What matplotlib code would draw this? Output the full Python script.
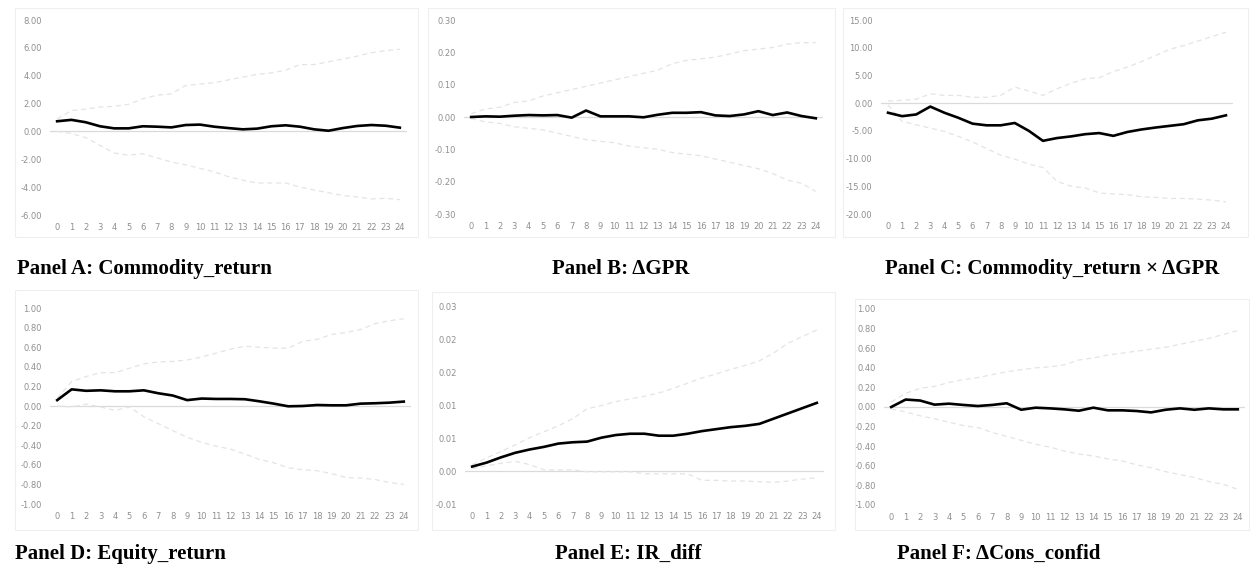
import matplotlib.pyplot as plt
from matplotlib.patches import Rectangle

plt.rcParams['axes.unicode_minus'] = False

W, H = 1250, 570
horizon = list(range(25))

# Panel A: Commodity_return
a_irf = [0.73, 0.83, 0.66, 0.37, 0.22, 0.22, 0.37, 0.34, 0.29, 0.46, 0.49, 0.34, 0.24,
         0.15, 0.20, 0.37, 0.44, 0.34, 0.15, 0.05, 0.24, 0.39, 0.46, 0.41, 0.27]
a_up = [0.9, 1.5, 1.6, 1.75, 1.8, 1.95, 2.35, 2.6, 2.7, 3.3, 3.4, 3.5, 3.7,
        3.9, 4.1, 4.2, 4.4, 4.8, 4.8, 5.0, 5.2, 5.4, 5.65, 5.8, 5.9]
a_lo = [0.0, -0.15, -0.45, -1.0, -1.55, -1.7, -1.6, -1.9, -2.2, -2.4, -2.65, -2.9, -3.25,
        -3.5, -3.7, -3.7, -3.7, -4.0, -4.2, -4.4, -4.6, -4.7, -4.85, -4.8, -4.9]
a_ticks = [-6, -4, -2, 0, 2, 4, 6, 8]

# Panel B: dGPR
b_irf = [0.0, 0.002, 0.001, 0.004, 0.006, 0.005, 0.006, -0.002, 0.020, 0.002, 0.002, 0.002, -0.001,
         0.007, 0.013, 0.013, 0.015, 0.005, 0.003, 0.008, 0.018, 0.006, 0.014, 0.003, -0.004]
b_up = [0.01, 0.025, 0.03, 0.045, 0.05, 0.065, 0.075, 0.085, 0.095, 0.105, 0.115, 0.125, 0.135,
        0.145, 0.165, 0.175, 0.18, 0.185, 0.195, 0.205, 0.21, 0.215, 0.225, 0.23, 0.23]
b_lo = [-0.005, -0.015, -0.02, -0.03, -0.035, -0.04, -0.05, -0.06, -0.07, -0.075, -0.08, -0.09, -0.095,
        -0.1, -0.11, -0.115, -0.12, -0.13, -0.14, -0.15, -0.16, -0.175, -0.195, -0.205, -0.23]
b_ticks = [-0.3, -0.2, -0.1, 0.0, 0.1, 0.2, 0.3]

# Panel C: Commodity_return x dGPR
c_irf = [-1.73, -2.35, -2.04, -0.62, -1.73, -2.65, -3.7, -4.0, -4.0, -3.58, -5.0, -6.8, -6.3,
         -6.0, -5.6, -5.4, -5.9, -5.2, -4.75, -4.4, -4.1, -3.8, -3.1, -2.8, -2.2]
c_up = [0.4, 0.5, 0.7, 1.7, 1.4, 1.4, 1.05, 1.05, 1.4, 2.9, 2.2, 1.4, 2.6,
        3.6, 4.4, 4.6, 5.7, 6.5, 7.5, 8.6, 9.7, 10.4, 11.2, 12.0, 12.8]
c_lo = [-0.3, -3.3, -3.9, -4.5, -5.1, -6.0, -7.0, -8.2, -9.4, -10.1, -11.0, -11.6, -14.1,
        -15.0, -15.3, -16.2, -16.4, -16.5, -16.9, -17.0, -17.2, -17.2, -17.3, -17.5, -17.8]
c_ticks = [-20, -15, -10, -5, 0, 5, 10, 15]

# Panel D: Equity_return
d_irf = [0.06, 0.17, 0.155, 0.16, 0.15, 0.15, 0.16, 0.13, 0.107, 0.06, 0.076, 0.072, 0.072,
         0.069, 0.048, 0.024, -0.003, 0.0, 0.01, 0.007, 0.007, 0.024, 0.028, 0.034, 0.045]
d_up = [0.08, 0.25, 0.3, 0.34, 0.34, 0.385, 0.43, 0.45, 0.455, 0.47, 0.5, 0.54, 0.58,
        0.61, 0.6, 0.59, 0.59, 0.66, 0.68, 0.73, 0.75, 0.78, 0.84, 0.87, 0.89]
d_lo = [0.0, -0.01, 0.02, -0.01, -0.045, -0.01, -0.11, -0.18, -0.25, -0.32, -0.37, -0.41, -0.44,
        -0.49, -0.545, -0.58, -0.63, -0.65, -0.66, -0.69, -0.73, -0.735, -0.75, -0.78, -0.80]
d_ticks = [-1.0, -0.8, -0.6, -0.4, -0.2, 0.0, 0.2, 0.4, 0.6, 0.8, 1.0]

# Panel E: IR_diff
e_irf = [0.0007, 0.0013, 0.0021, 0.0028, 0.0033, 0.0037, 0.0042, 0.0044, 0.0045, 0.0051, 0.0055, 0.0057, 0.0057,
         0.0054, 0.0054, 0.0057, 0.0061, 0.0064, 0.0067, 0.0069, 0.0072, 0.0080, 0.0088, 0.0096, 0.0104]
e_up = [0.001, 0.002, 0.003, 0.004, 0.0051, 0.006, 0.0069, 0.008, 0.0095, 0.0100, 0.0106, 0.0110, 0.0114,
        0.0119, 0.0126, 0.0134, 0.0142, 0.0148, 0.0155, 0.0161, 0.0168, 0.0180, 0.0195, 0.0205, 0.0215]
e_lo = [0.0004, 0.0008, 0.0012, 0.0015, 0.0010, 0.0002, 0.0002, 0.0002, -0.0001, -0.0001, -0.0001, -0.0001, -0.0004,
        -0.0004, -0.0004, -0.0004, -0.0014, -0.0014, -0.0015, -0.0015, -0.0016, -0.0017, -0.0015, -0.0012, -0.0010]
e_ticks = [-0.005, 0.0, 0.005, 0.01, 0.015, 0.02, 0.025]
e_labels = ['-0.01', '0.00', '0.01', '0.01', '0.02', '0.02', '0.03']

# Panel F: dCons_confid
f_irf = [0.0, 0.076, 0.066, 0.024, 0.034, 0.021, 0.01, 0.021, 0.038, -0.028, -0.007, -0.014, -0.024,
         -0.038, -0.007, -0.034, -0.034, -0.041, -0.055, -0.028, -0.014, -0.028, -0.014, -0.024, -0.024]
f_up = [0.05, 0.14, 0.19, 0.21, 0.25, 0.28, 0.30, 0.33, 0.36, 0.38, 0.40, 0.41, 0.43,
        0.48, 0.50, 0.53, 0.55, 0.57, 0.59, 0.61, 0.64, 0.67, 0.70, 0.74, 0.78]
f_lo = [-0.02, -0.05, -0.09, -0.12, -0.155, -0.19, -0.21, -0.26, -0.30, -0.34, -0.38, -0.41, -0.45,
        -0.48, -0.50, -0.53, -0.55, -0.59, -0.62, -0.66, -0.69, -0.72, -0.76, -0.79, -0.84]
f_ticks = [-1.0, -0.8, -0.6, -0.4, -0.2, 0.0, 0.2, 0.4, 0.6, 0.8, 1.0]

titles = ['Panel A: Commodity_return', 'Panel B: \u0394GPR', 'Panel C: Commodity_return \u00d7 \u0394GPR',
          'Panel D: Equity_return', 'Panel E: IR_diff', 'Panel F: \u0394Cons_confid']

panels = [
    (a_irf, a_up, a_lo, a_ticks, ['%.2f' % t for t in a_ticks]),
    (b_irf, b_up, b_lo, b_ticks, ['%.2f' % t for t in b_ticks]),
    (c_irf, c_up, c_lo, c_ticks, ['%.2f' % t for t in c_ticks]),
    (d_irf, d_up, d_lo, d_ticks, ['%.2f' % t for t in d_ticks]),
    (e_irf, e_up, e_lo, e_ticks, e_labels),
    (f_irf, f_up, f_lo, f_ticks, ['%.2f' % t for t in f_ticks]),
]

# plot boxes in pixels: left, right, top, bottom
boxes = [(50, 407, 20, 215), (464, 823, 20, 214), (881, 1233, 20, 214),
         (50, 411, 308, 504), (465, 824, 307, 504), (884, 1245, 309, 505)]
# chart-area frames in pixels: left, top, right, bottom
frames = [(15, 8, 418, 237), (428, 8, 835, 237), (843, 8, 1248, 237),
          (15, 290, 418, 530), (432, 292, 835, 530), (855, 299, 1249, 530)]
# title positions in pixels
title_pos = [(17, 269), (552, 269), (885, 269), (15, 554), (555, 554), (897, 554)]

fig = plt.figure(figsize=(W / 100, H / 100), dpi=100)

for fr in frames:
    l, t, r, b = fr
    fig.patches.append(Rectangle((l / W, 1 - b / H), (r - l) / W, (b - t) / H,
                                 transform=fig.transFigure, fill=False,
                                 edgecolor='#efefef', linewidth=0.8))

for (irf, up, lo, ticks, labels), (l, r, t, b), title, (tx, ty) in zip(panels, boxes, titles, title_pos):
    ax = fig.add_axes([l / W, 1 - b / H, (r - l) / W, (b - t) / H])
    ax.axhline(0, color='#dadada', linewidth=0.9, zorder=1)
    ax.plot(horizon, up, color='#e4e4e4', linewidth=0.9, linestyle=(0, (4, 3)), zorder=2)
    ax.plot(horizon, lo, color='#e4e4e4', linewidth=0.9, linestyle=(0, (4, 3)), zorder=2)
    ax.plot(horizon, irf, color='black', linewidth=1.9, zorder=3)
    ax.set_xlim(-0.5, 24.5)
    ax.set_ylim(ticks[0], ticks[-1])
    ax.set_yticks(ticks)
    ax.set_yticklabels(labels)
    ax.set_xticks(horizon)
    ax.set_xticklabels([str(h) for h in horizon])
    ax.tick_params(length=0, labelsize=6, labelcolor='#8f8f8f', pad=6)
    for s in ax.spines.values():
        s.set_visible(False)
    fig.text(tx / W, 1 - ty / H, title, fontsize=15, fontweight='bold',
             family=['Liberation Serif', 'DejaVu Serif'], va='center', ha='left')

fig.savefig('out.png', dpi=100, facecolor='white')
